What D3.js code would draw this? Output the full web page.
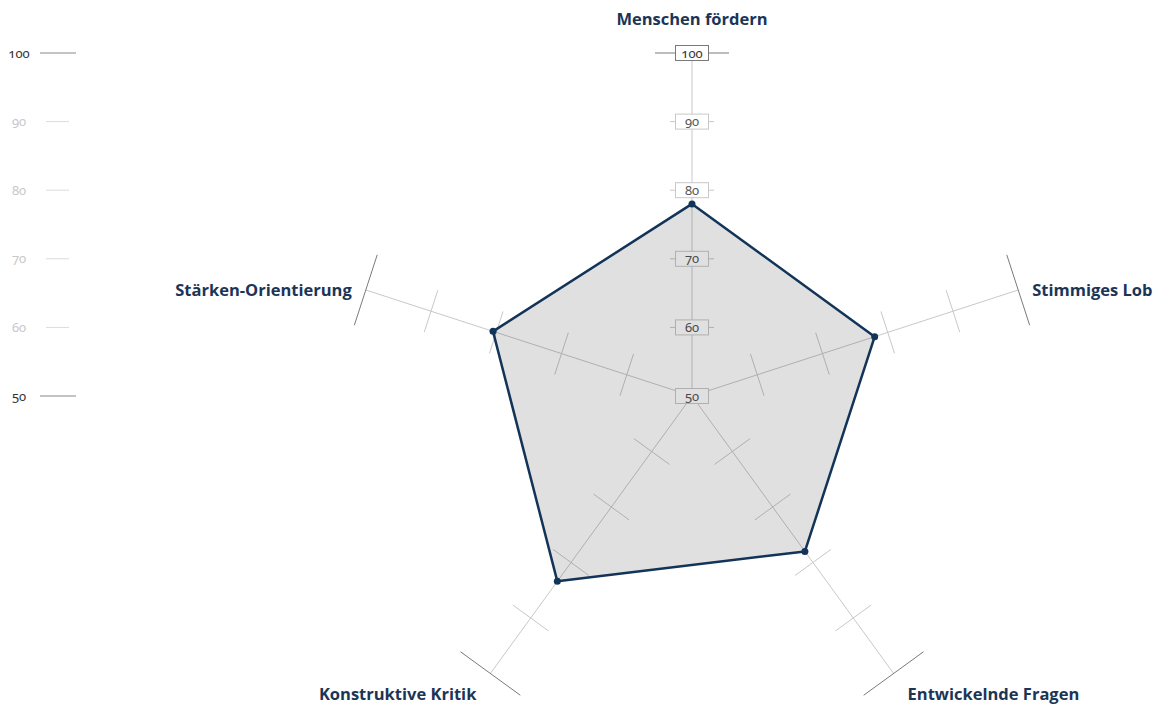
<!DOCTYPE html>
<html>
<head>
<meta charset="utf-8">
<script src="https://cdn.jsdelivr.net/npm/d3@7"></script>
<style>
  html, body { margin: 0; padding: 0; background: #fff; }
  svg { display: block; }
  .num { font-family: "Noto Sans", Lato, sans-serif; font-variant-numeric: oldstyle-nums; font-feature-settings: "onum" 1; }
  .lbl { font-family: "Open Sans", Lato, sans-serif; font-weight: 700; fill: #1b3556; }
</style>
</head>
<body>
<svg id="chart" width="1154" height="707"></svg>
<script>
const categories = ["Menschen fördern", "Stimmiges Lob", "Entwickelnde Fragen", "Konstruktive Kritik", "Stärken-Orientierung"];
const values = [78, 78, 78, 83.4, 80.5];
const tickValues = [50, 60, 70, 80, 90, 100];

const svg = d3.select("#chart");
const cx = 692, cy = 396;
const r = d3.scaleLinear().domain([50, 100]).range([0, 343]);
const ang = d3.scaleLinear().domain([0, categories.length]).range([0, 2 * Math.PI]);

function pt(i, v) {
  const a = ang(i);
  return [cx + r(v) * Math.sin(a), cy - r(v) * Math.cos(a)];
}

const axisColor = "#c8c8c8";
const darkTick = "#7a7a7a";

// Left scale
const ly = d3.scaleLinear().domain([50, 100]).range([cy, cy - 343]);
const left = svg.append("g");
tickValues.forEach(v => {
  const major = (v === 50 || v === 100);
  left.append("line")
    .attr("x1", major ? 40 : 46).attr("x2", major ? 76 : 69)
    .attr("y1", ly(v)).attr("y2", ly(v))
    .attr("stroke", major ? "#888" : "#dcdcdc").attr("stroke-width", 1);
  left.append("text").attr("class", "num")
    .attr("x", 19).attr("y", ly(v)).attr("dy", "0.35em")
    .attr("text-anchor", "middle").attr("font-size", 13)
    .attr("fill", major ? "#333" : "#c8c8c8")
    .text(v);
});

// Axes
const axes = svg.append("g");
categories.forEach((c, i) => {
  const a = ang(i);
  const [x2, y2] = pt(i, 100);
  axes.append("line").attr("x1", cx).attr("y1", cy).attr("x2", x2).attr("y2", y2)
    .attr("stroke", axisColor).attr("stroke-width", 1);
  const px = Math.cos(a), py = Math.sin(a);
  tickValues.slice(1).forEach(v => {
    const [tx, ty] = pt(i, v);
    const h = v === 100 ? 37 : 22;
    axes.append("line")
      .attr("x1", tx - px * h).attr("y1", ty - py * h)
      .attr("x2", tx + px * h).attr("y2", ty + py * h)
      .attr("stroke", v === 100 ? darkTick : axisColor).attr("stroke-width", 1);
  });
});

// Boxes on vertical axis
const boxes = svg.append("g");
tickValues.forEach(v => {
  const [bx, by] = pt(0, v);
  boxes.append("rect")
    .attr("x", bx - 16.5).attr("y", by - 7.5).attr("width", 33).attr("height", 15)
    .attr("fill", "#fff")
    .attr("stroke", v === 100 ? darkTick : axisColor).attr("stroke-width", 1);
  boxes.append("text").attr("class", "num")
    .attr("x", bx).attr("y", by).attr("dy", "0.36em")
    .attr("text-anchor", "middle").attr("font-size", 13)
    .attr("fill", v === 100 ? "#333" : "#555")
    .text(v);
});

// Polygon
const line = d3.line().curve(d3.curveLinearClosed);
const pts = values.map((v, i) => pt(i, v));
svg.append("path").attr("d", line(pts))
  .attr("fill", "rgba(0,0,0,0.12)")
  .attr("stroke", "#123458").attr("stroke-width", 2.5).attr("stroke-linejoin", "round");
svg.append("g").selectAll("circle").data(pts).join("circle")
  .attr("cx", d => d[0]).attr("cy", d => d[1]).attr("r", 3.5).attr("fill", "#123458");

// Labels
const labelOffsets = [
  { dx: 0, dy: -28, anchor: "middle", base: "auto" },
  { dx: 14, dy: 0, anchor: "start", base: "mid" },
  { dx: 14, dy: 27, anchor: "start", base: "auto" },
  { dx: -14, dy: 27, anchor: "end", base: "auto" },
  { dx: -14, dy: 0, anchor: "end", base: "mid" }
];
categories.forEach((c, i) => {
  const [x, y] = pt(i, 100);
  const o = labelOffsets[i];
  svg.append("text").attr("class", "lbl")
    .attr("x", x + o.dx).attr("y", y + o.dy)
    .attr("dy", o.base === "mid" ? "0.35em" : 0)
    .attr("text-anchor", o.anchor).attr("font-size", 16.5)
    .text(c);
});
</script>
</body>
</html>
